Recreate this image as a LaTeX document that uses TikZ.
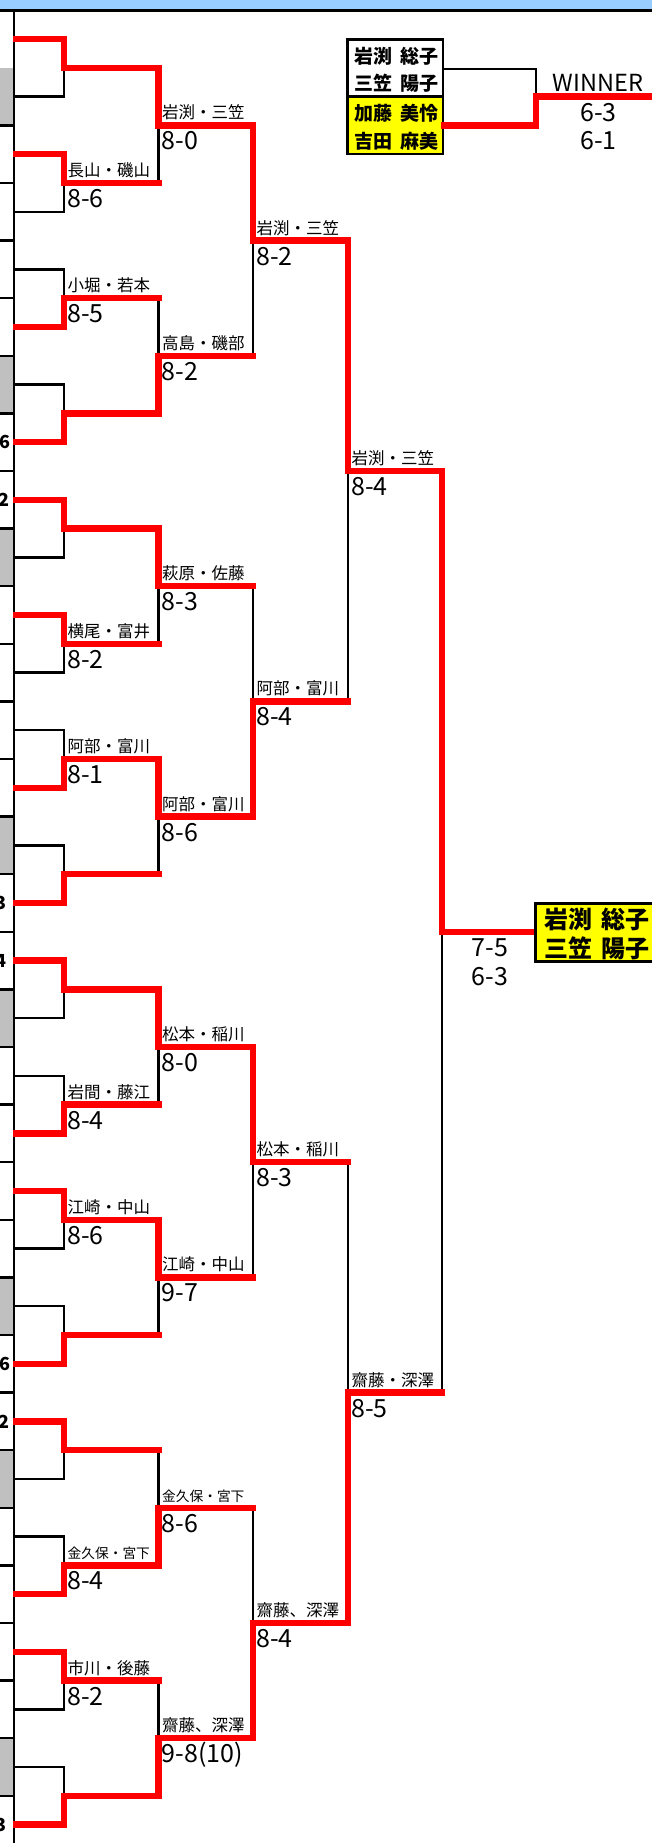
\documentclass[tikz,border=0pt]{standalone}
\usepackage{fontspec}
\setmainfont{Noto Sans CJK JP}
\usetikzlibrary{calc}
\pgfdeclarelayer{blk}
\pgfsetlayers{blk,main}
\definecolor{xred}{HTML}{FF0000}
\definecolor{xyel}{HTML}{FFFF00}
\definecolor{xgry}{HTML}{C0C0C0}
\definecolor{xblu}{HTML}{99CCFF}
\tikzset{
  bk/.style={line width=2.4pt, draw=black, line cap=rect},
  rd/.style={line width=6.5pt, draw=xred, line cap=rect, line join=miter},
  nm/.style={inner sep=0pt, font=\fontsize{16.5}{16.5}\selectfont},
  nms/.style={inner sep=0pt, font=\fontsize{13.7}{13.7}\selectfont},
  sc/.style={inner sep=0pt, font=\fontsize{25}{25}\selectfont},
  bn/.style={inner sep=0pt, font=\bfseries\fontsize{19}{19}\selectfont},
  cn/.style={inner sep=0pt, font=\bfseries\fontsize{24}{24}\selectfont},
  cd/.style={inner sep=0pt, font=\bfseries\fontsize{18}{18}\selectfont},
  wn/.style={inner sep=0pt, font=\fontsize{23.5}{23.5}\selectfont},
}
\newcommand{\gap}{\hspace{0.4em}}
\newcommand{\brround}[4]{%
  \foreach \w [count=\k from 0] in {#4} {
    \pgfmathsetmacro{\pw}{2^(#1-1)}
    \pgfmathsetmacro{\yt}{39+57.6*(2*\pw*\k+(\pw-1)/2)}
    \pgfmathsetmacro{\yb}{\yt+57.6*\pw}
    \pgfmathsetmacro{\yo}{(\yt+\yb)/2}
    \pgfmathsetmacro{\yw}{(\w==0) ? \yt : \yb}
    \coordinate (r#1m\k t) at (#2,\yt);
    \coordinate (r#1m\k b) at (#2,\yb);
    \coordinate (r#1m\k o) at (#2,\yo);
    \coordinate (r#1m\k w) at (#2,\yw);
    \coordinate (r#1m\k n) at (#3,\yo);
    \begin{pgfonlayer}{blk}
      \draw[bk] (r#1m\k t) -- (r#1m\k b);
    \end{pgfonlayer}
    \draw[rd] (r#1m\k w) -- (r#1m\k o) -- (r#1m\k n);
  }%
}
\newcommand{\lbl}[4]{%
  \node[#2, anchor=base west] (#1name) at ([shift={(3.5pt,6.5pt)}]#1o) {#3};
  \node[sc, anchor=base west] (#1score) at ([shift={(3pt,-24.5pt)}]#1o) {#4};
}
\begin{document}
\begin{tikzpicture}[x=1pt, y=-1pt]
\useasboundingbox (0,0) rectangle (652,1843);
% header band
\fill[xblu] (0,0) rectangle (652,9.5);
\draw[bk, line cap=butt] (0,10.4) -- (652,10.4);
% left strip cells
\foreach \e in {1,6,9,14,17,22,25,30} {
  \fill[xgry] (0,{39+57.6*\e-28.8}) rectangle (13,{39+57.6*\e+28.8});
}
\foreach \j in {1,...,30} {
  \draw[bk, line cap=butt] (0,{67.8+57.6*\j}) -- (13,{67.8+57.6*\j});
}
\coordinate (lvA) at (14,10);
\coordinate (lvB) at (14,1843);
\draw[bk, line cap=butt] (lvA) -- (lvB);
% cut-off digits of the column on the left
\node[cd, anchor=east] (cd1) at (11,442.2) {6};
\node[cd, anchor=east] (cd2) at (10,499.8) {2};
\node[cd, anchor=east] (cd3) at (7,903) {3};
\node[cd, anchor=east] (cd4) at (7,960.6) {4};
\node[cd, anchor=east] (cd5) at (11,1363.8) {6};
\node[cd, anchor=east] (cd6) at (10,1421.4) {2};
\node[cd, anchor=east] (cd7) at (7,1824.6) {3};
% bracket rounds
\brround{1}{64}{158.5}{0,0,1,1,0,0,1,1,0,1,0,1,0,1,0,1}
\brround{2}{158.5}{253}{0,1,0,0,0,0,1,1}
\brround{3}{253}{348}{0,1,0,1}
\brround{4}{348}{442}{0,1}
\brround{5}{442}{535}{0}
% entries
\foreach \w [count=\k from 0] in {0,0,1,1,0,0,1,1,0,1,0,1,0,1,0,1} {
  \pgfmathsetmacro{\ya}{39+57.6*(2*\k)}
  \pgfmathsetmacro{\yc}{\ya+57.6}
  \pgfmathsetmacro{\ywin}{(\w==0) ? \ya : \yc}
  \pgfmathsetmacro{\ylos}{(\w==0) ? \yc : \ya}
  \coordinate (e\k wa) at (16.5,\ywin);
  \coordinate (e\k wb) at (64,\ywin);
  \coordinate (e\k la) at (14,\ylos);
  \coordinate (e\k lb) at (64,\ylos);
  \begin{pgfonlayer}{blk}
    \draw[bk] (e\k la) -- (e\k lb);
  \end{pgfonlayer}
  \draw[rd] (e\k wa) -- (e\k wb);
}
% labels round 1
\lbl{r1m1}{nm}{長山・磯山}{8-6}
\lbl{r1m2}{nm}{小堀・若本}{8-5}
\lbl{r1m5}{nm}{横尾・富井}{8-2}
\lbl{r1m6}{nm}{阿部・富川}{8-1}
\lbl{r1m9}{nm}{岩間・藤江}{8-4}
\lbl{r1m10}{nm}{江崎・中山}{8-6}
\lbl{r1m13}{nms}{金久保・宮下}{8-4}
\lbl{r1m14}{nm}{市川・後藤}{8-2}
% labels round 2
\lbl{r2m0}{nm}{岩渕・三笠}{8-0}
\lbl{r2m1}{nm}{高島・磯部}{8-2}
\lbl{r2m2}{nm}{萩原・佐藤}{8-3}
\lbl{r2m3}{nm}{阿部・富川}{8-6}
\lbl{r2m4}{nm}{松本・稲川}{8-0}
\lbl{r2m5}{nm}{江崎・中山}{9-7}
\lbl{r2m6}{nms}{金久保・宮下}{8-6}
\lbl{r2m7}{nm}{齋藤、深澤}{9-8(10)}
% labels round 3
\lbl{r3m0}{nm}{岩渕・三笠}{8-2}
\lbl{r3m1}{nm}{阿部・富川}{8-4}
\lbl{r3m2}{nm}{松本・稲川}{8-3}
\lbl{r3m3}{nm}{齋藤、深澤}{8-4}
% labels round 4
\lbl{r4m0}{nm}{岩渕・三笠}{8-4}
\lbl{r4m1}{nm}{齋藤・深澤}{8-5}
% final scores
\node[sc, anchor=base] (fs1) at (490,956.7) {7-5};
\node[sc, anchor=base] (fs2) at (490,985) {6-3};
% champion box
\draw[bk, line cap=butt, fill=xyel] (535.5,903.5) rectangle (670,961.5);
\node[cn, anchor=base west] (ch1) at (544,928) {岩渕\gap 総子};
\node[cn, anchor=base west] (ch2) at (544,957.5) {三笠\gap 陽子};
% top-right final
\fill[xyel] (347.5,96.5) rectangle (443,154);
\draw[bk, line cap=butt] (347.5,39.5) rectangle (443,154);
\draw[bk, line cap=butt] (347.5,96.5) -- (443,96.5);
\node[bn, anchor=base] (sf1) at (396.5,63.5) {岩渕\gap 総子};
\node[bn, anchor=base] (sf2) at (396.5,91) {三笠\gap 陽子};
\node[bn, anchor=base] (sf3) at (396.5,121) {加藤\gap 美怜};
\node[bn, anchor=base] (sf4) at (396.5,149) {吉田\gap 麻美};
\coordinate (sfA) at (443,69);
\coordinate (sfB) at (441,125.5);
\coordinate (sfJ) at (536,96.5);
\coordinate (sfE) at (660,96.5);
\draw[bk, line cap=butt] (sfA) -| (sfJ);
\draw[rd, line cap=butt] (sfB) -| (sfJ) -- (sfE);
\node[wn, anchor=base] (win) at (598,92) {WINNER};
\node[sc, anchor=base] (ws1) at (598.5,121.7) {6-3};
\node[sc, anchor=base] (ws2) at (598.5,149.3) {6-1};
\end{tikzpicture}
\end{document}
